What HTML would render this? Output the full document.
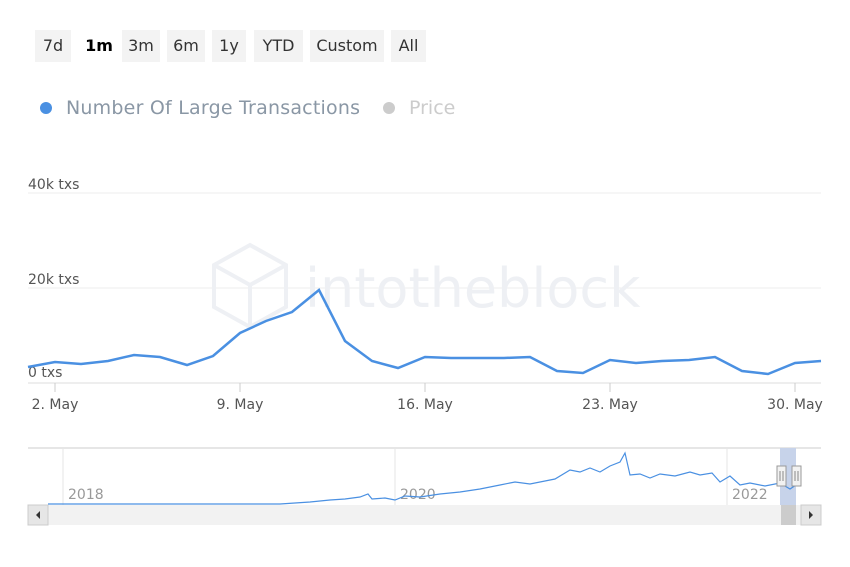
<!DOCTYPE html>
<html><head><style>
body{margin:0;background:#fff;width:850px;height:567px;overflow:hidden;font-family:"DejaVu Sans","Liberation Sans",sans-serif}
.b{position:absolute;top:30px;height:32px;background:#f3f3f3;font-size:16px;color:#333;line-height:32px;text-align:center}
</style></head><body>
<div class="b" style="left:35px;width:36px">7d</div>
<div class="b" style="left:79px;width:40px;background:none;font-weight:bold;color:#000">1m</div>
<div class="b" style="left:122px;width:38px">3m</div>
<div class="b" style="left:167px;width:38px">6m</div>
<div class="b" style="left:212px;width:34px">1y</div>
<div class="b" style="left:254px;width:49px">YTD</div>
<div class="b" style="left:310px;width:74px">Custom</div>
<div class="b" style="left:391px;width:35px">All</div>
<svg width="850" height="567" style="position:absolute;left:0;top:0" font-family="DejaVu Sans, Liberation Sans, sans-serif">
<circle cx="46" cy="108" r="6" fill="#4a90e2"/>
<text x="66" y="114" font-size="19" fill="#8a97a5" textLength="294">Number Of Large Transactions</text>
<circle cx="389" cy="108" r="6" fill="#ccc"/>
<text x="409" y="114" font-size="19" fill="#ccc">Price</text>
<line x1="28" y1="193" x2="821" y2="193" stroke="#eee"/>
<line x1="28" y1="288" x2="821" y2="288" stroke="#eee"/>
<line x1="28" y1="383" x2="821" y2="383" stroke="#ddd"/>
<text x="28" y="189" font-size="14" fill="#555">40k txs</text>
<text x="28" y="284" font-size="14" fill="#555">20k txs</text>
<text x="28" y="377" font-size="14" fill="#555">0 txs</text>
<g stroke="#eef0f4" stroke-width="4" fill="none"><path d="M250,245 l36,20 v42 l-36,20 l-36,-20 v-42z M214,265 l36,20 l36,-20 M250,285 v42"/></g>
<text x="305" y="307" font-size="54" fill="#eef0f4">intotheblock</text>
<polyline fill="none" stroke="#4a90e2" stroke-width="2.5" points="28,367 55,362 81,364 108,361 134,355 160,357 187,365 213,356 240,333 266,321 292,312 319,290 345,341 372,361 398,368 425,357 451,358 478,358 504,358 530,357 557,371 583,373 610,360 636,363 662,361 689,360 715,357 742,371 768,374 795,363 821,361"/>
<g font-size="14" fill="#555" text-anchor="middle">
<line x1="55" y1="383" x2="55" y2="392" stroke="#ccc"/><text x="55" y="409">2. May</text>
<line x1="240" y1="383" x2="240" y2="392" stroke="#ccc"/><text x="240" y="409">9. May</text>
<line x1="425" y1="383" x2="425" y2="392" stroke="#ccc"/><text x="425" y="409">16. May</text>
<line x1="610" y1="383" x2="610" y2="392" stroke="#ccc"/><text x="610" y="409">23. May</text>
<line x1="795" y1="383" x2="795" y2="392" stroke="#ccc"/><text x="795" y="409">30. May</text>
</g>
<line x1="28" y1="448" x2="821" y2="448" stroke="#ccc"/>
<line x1="63" y1="448" x2="63" y2="505" stroke="#e6e6e6"/>
<line x1="395" y1="448" x2="395" y2="505" stroke="#e6e6e6"/>
<line x1="727" y1="448" x2="727" y2="505" stroke="#e6e6e6"/>
<g font-size="14" fill="#999"><text x="68" y="499">2018</text><text x="400" y="499">2020</text><text x="732" y="499">2022</text></g>
<rect x="780" y="448" width="16" height="57" fill="#c7d3ea"/>
<polyline fill="none" stroke="#4a90e2" stroke-width="1.2" points="48,504 280,504 310,502 330,500 345,499 360,497 368,494 372,499 385,498 395,500 405,496 420,497 440,494 460,492 480,489 500,485 515,482 530,484 545,481 555,479 570,470 580,472 590,468 600,472 610,466 620,462 625,453 630,475 640,474 650,478 660,474 675,476 690,472 700,475 712,473 720,482 730,476 740,485 750,483 765,486 780,483 790,489 796,485"/>
<rect x="777" y="466" width="9" height="20" fill="#f2f2f2" stroke="#999"/>
<rect x="792" y="466" width="9" height="20" fill="#f2f2f2" stroke="#999"/>
<path d="M780,471 v10 M783,471 v10 M795,471 v10 M798,471 v10" stroke="#888"/>
<rect x="28" y="505" width="793" height="20" fill="#f2f2f2"/>
<rect x="28" y="505" width="20" height="20" fill="#e6e6e6" stroke="#ccc"/>
<rect x="801" y="505" width="20" height="20" fill="#e6e6e6" stroke="#ccc"/>
<rect x="781" y="505" width="15" height="20" fill="#ccc"/>
<path d="M40,511 l-4,4 4,4z M809,511 l4,4 -4,4z" fill="#333"/>
</svg>
</body></html>
